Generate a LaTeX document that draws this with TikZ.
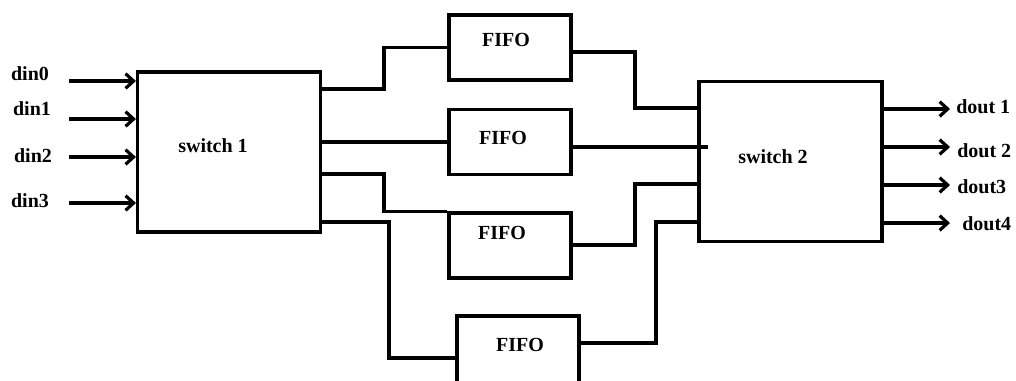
\documentclass[tikz,border=0pt]{standalone}
\usepackage{fontspec}
\setmainfont{Liberation Serif}
\usetikzlibrary{arrows.meta}
\begin{document}
\begin{tikzpicture}[x=0.75pt,y=-0.75pt,
  wire/.style={line width=2.6pt,line join=miter},
  inarrow/.style={wire,-{Straight Barb[length=6pt,width=11pt,line width=2.4pt]}},
  blk/.style={draw,line width=2.6pt,rectangle,inner sep=0pt},
  sw/.style={blk,minimum width=137pt,minimum height=120pt},
  fifo/.style={blk,minimum width=91.5pt,minimum height=48.75pt},
  lbl/.style={font=\fontsize{15}{18}\selectfont\bfseries,inner sep=0pt,anchor=base}
]
\clip (0,0) rectangle (1016,380);
% blocks
\node[sw] (s1) at (229,152) {};
\node[sw] (s2) at (790.5,161.5) {};
\node[fifo] (f1) at (510,47.5) {};
\node[fifo] (f2) at (510,142) {};
\node[fifo] (f3) at (510,245.5) {};
\node[fifo,minimum height=63pt] (f4) at (518,358) {};
% labels in blocks
\node[lbl] (t1) at (213,152) {switch 1};
\node[lbl] (t2) at (773,163) {switch 2};
\node[lbl] (tf1) at (506,46) {FIFO};
\node[lbl] (tf2) at (503,144) {FIFO};
\node[lbl] (tf3) at (502,239) {FIFO};
\node[lbl] (tf4) at (520,351) {FIFO};
% inputs
\coordinate (i0) at (69,81);
\coordinate (i1) at (69,119);
\coordinate (i2) at (69,157);
\coordinate (i3) at (69,203);
\draw[inarrow] (i0) -- (s1.west |- i0);
\draw[inarrow] (i1) -- (s1.west |- i1);
\draw[inarrow] (i2) -- (s1.west |- i2);
\draw[inarrow] (i3) -- (s1.west |- i3);
\node[lbl] (d0) at (30,80) {din0};
\node[lbl] (d1) at (32,115) {din1};
\node[lbl] (d2) at (33,162) {din2};
\node[lbl] (d3) at (30,207) {din3};
% switch1 -> FIFOs
\draw[wire] (s1.east |- 0,89) -- (384,89) |- (f1.west);
\draw[wire] (f2.west -| s1.east) -- (f2.west);
\draw[wire] (s1.east |- 0,174) -- (384,174) |- (f3.north west);
\draw[wire] (s1.east |- 0,222) -- (389,222) |- (f4.west |- 0,358);
% FIFOs -> switch2
\draw[wire] (f1.east |- 0,52) -- (635,52) |- (s2.west |- 0,108);
\coordinate (x2) at (708,147);
\draw[wire] (f2.east |- 0,147) -- (x2);
\draw[wire] (f3.east |- 0,245) -- (635,245) |- (s2.west |- 0,184);
\draw[wire] (f4.east |- 0,343) -- (656,343) |- (s2.west |- 0,222);
% outputs
\coordinate (o1) at (950,109);
\coordinate (o2) at (950,147);
\coordinate (o3) at (950,185);
\coordinate (o4) at (950,223);
\draw[inarrow] (s2.east |- o1) -- (o1);
\draw[inarrow] (s2.east |- o2) -- (o2);
\draw[inarrow] (s2.east |- o3) -- (o3);
\draw[inarrow] (s2.east |- o4) -- (o4);
\node[lbl,anchor=base west] (u1) at (956,113) {dout 1};
\node[lbl,anchor=base west] (u2) at (957,157) {dout 2};
\node[lbl,anchor=base west] (u3) at (957,193) {dout3};
\node[lbl,anchor=base west] (u4) at (962,230) {dout4};
\end{tikzpicture}
\end{document}
